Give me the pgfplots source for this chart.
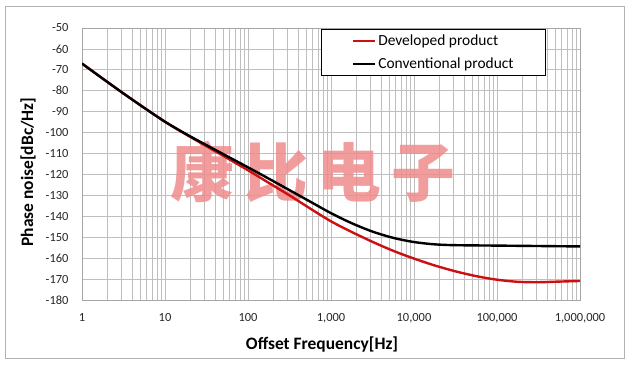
\documentclass[border=0pt]{standalone}
\usepackage{pgfplots}
\pgfplotsset{compat=1.18}
\usepackage{fontspec}
\setmainfont{Carlito}
\newfontfamily\cjk{Noto Sans CJK SC}
\definecolor{devred}{RGB}{204,16,16}
\definecolor{wmark}{RGB}{240,140,140}
\definecolor{gridc}{RGB}{190,190,190}
\begin{document}
\begin{tikzpicture}[x=1bp,y=1bp]
\useasboundingbox (0,0) rectangle (630,364);
\draw[gray!60, line width=0.8bp] (5,6) rectangle (624,358);
\begin{axis}[
  at={(82bp,64bp)}, anchor=south west,
  scale only axis, width=498bp, height=272bp,
  xmode=log, xmin=1, xmax=1000000, ymin=-180, ymax=-50,
  ytick={-180,-170,...,-50},
  xtick={1,10,100,1000,10000,100000,1000000},
  xticklabels={1,10,100,{1,000},{10,000},{100,000},{1,000,000}},
  xmajorgrids=true, xminorgrids=true, ymajorgrids=true,
  major grid style={draw=gridc, line width=0.7bp},
  minor grid style={draw=gridc, line width=0.6bp},
  axis line style={draw=gray!70, line width=0.7bp},
  major tick length=0pt, minor tick length=0pt,
  tick style={draw=none},
  /pgf/number format/assume math mode=true,
  tick label style={font=\fontsize{12.5}{14}\selectfont, text=black!85},
  ticklabel shift=10bp,
  xlabel={\textbf{Offset Frequency[Hz]}},
  ylabel={\textbf{Phase noise[dBc/Hz]}},
  label style={font=\fontsize{17.5}{19}\selectfont},
  xlabel style={at={(axis description cs:0.482,-0.1618)}, anchor=center},
  ylabel style={at={(axis description cs:-0.1084,0.4706)}, anchor=center},
  legend style={at={(axis description cs:0.9317,0.997)}, anchor=north east,
    draw=black, line width=0.8bp, fill=white,
    inner xsep=30bp, inner ysep=3.5bp, row sep=7bp,
    font=\fontsize{15.5}{17}\selectfont,
    nodes={inner sep=2bp}},
  legend cell align=left,
  legend image code/.code={\draw[#1, line width=2.4bp] (0bp,0bp) -- (22bp,0bp);},
]
\node[text=wmark, opacity=0.85, font=\cjk\bfseries\fontsize{64}{66}\selectfont, inner sep=0pt]
  at (rel axis cs:0.4639,0.4706) {康\hspace{10bp}比\hspace{10bp}电\hspace{10bp}子};
\addplot[devred, line width=2.4bp, smooth, tension=0.5] coordinates {
(1,-67) (3.162,-81.3) (10,-94.8) (17.78,-100.8) (31.62,-106.5) (56.23,-112.2)
(100,-118) (177.8,-124) (316.2,-130) (562.3,-136.3) (1000,-142.4) (1778,-147.5)
(3162,-152.2) (5623,-156.5) (10000,-160.2) (17783,-163.5) (31623,-166.3) (56234,-168.6)
(100000,-170.3) (177828,-171.3) (316228,-171.5) (562341,-171.2) (1000000,-170.9)
};
\addlegendentry{Developed product}
\addplot[black, line width=2.4bp, smooth, tension=0.5] coordinates {
(1,-67) (1.778,-74.2) (3.162,-81.3) (5.623,-88.2) (10,-94.8) (17.78,-100.6) (31.62,-106)
(56.23,-111.3) (100,-116.6) (177.8,-122) (316.2,-127.5) (562.3,-133) (1000,-138.5)
(1778,-143.3) (3162,-147.3) (5623,-150.3) (10000,-152.3) (17783,-153.4) (31623,-153.8)
(100000,-154) (316228,-154.2) (1000000,-154.4)
};
\addlegendentry{Conventional product}
\end{axis}
\end{tikzpicture}
\end{document}
